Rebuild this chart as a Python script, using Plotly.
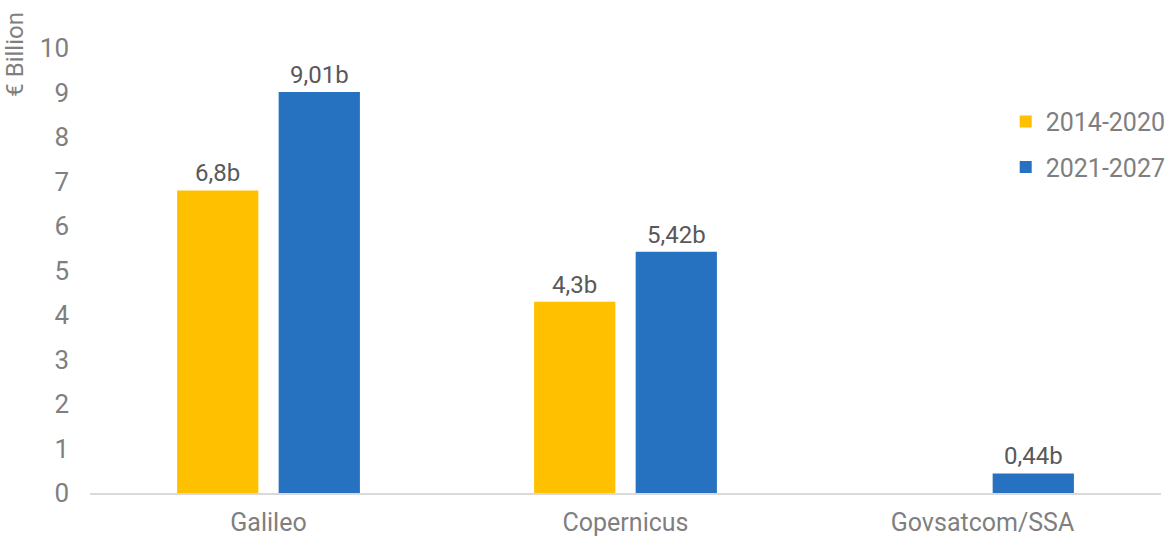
import plotly.graph_objects as go

programmes = ["Galileo", "Copernicus", "Govsatcom/SSA"]
budget_2014_2020 = [6.8, 4.3, None]
budget_2021_2027 = [9.01, 5.42, 0.44]
labels_2014_2020 = ["6,8b", "4,3b", ""]
labels_2021_2027 = ["9,01b", "5,42b", "0,44b"]
y_ticks = list(range(0, 11))

FONT = "Roboto"
AXIS_GREY = "#7f7f7f"
LABEL_GREY = "#595959"

fig = go.Figure()
fig.add_trace(go.Bar(
    name="2014-2020", x=programmes, y=budget_2014_2020,
    marker=dict(color="#FFC000", line=dict(width=0)),
    text=labels_2014_2020, textposition="outside", cliponaxis=False,
    textfont=dict(family=FONT, size=24, color=LABEL_GREY),
    legendgroup="a",
))
fig.add_trace(go.Bar(
    name="2021-2027", x=programmes, y=budget_2021_2027,
    marker=dict(color="#2672C0", line=dict(width=0)),
    text=labels_2021_2027, textposition="outside", cliponaxis=False,
    textfont=dict(family=FONT, size=24, color=LABEL_GREY),
    legendgroup="b",
))

fig.update_layout(
    width=1170, height=539,
    margin=dict(l=90, r=9, t=48, b=46, autoexpand=False),
    paper_bgcolor="white", plot_bgcolor="white",
    barmode="group", bargap=0.431, bargroupgap=0.2,
    font=dict(family=FONT, size=24, color=AXIS_GREY),
    legend=dict(
        x=0.855, y=0.886, xanchor="left", yanchor="top",
        font=dict(family=FONT, size=25, color=AXIS_GREY),
        traceorder="grouped", tracegroupgap=10,
        bgcolor="rgba(0,0,0,0)",
    ),
    xaxis=dict(
        showline=True, linecolor="#d9d9d9", linewidth=2,
        showgrid=False, ticks="", ticklabelstandoff=6, automargin=False,
        tickfont=dict(family=FONT, size=25, color=AXIS_GREY),
    ),
    yaxis=dict(
        range=[0, 10], tickvals=y_ticks, showgrid=False, zeroline=False,
        showline=False, ticks="", ticklabelstandoff=20, automargin=False,
        tickfont=dict(family=FONT, size=26, color=AXIS_GREY),
    ),
    annotations=[dict(
        text="€ Billion", textangle=-90, showarrow=False,
        xref="paper", yref="paper", x=-0.07, y=0.985,
        xanchor="center", yanchor="middle",
        font=dict(family=FONT, size=24, color=AXIS_GREY),
    )],
)

fig.write_html("out.html")
